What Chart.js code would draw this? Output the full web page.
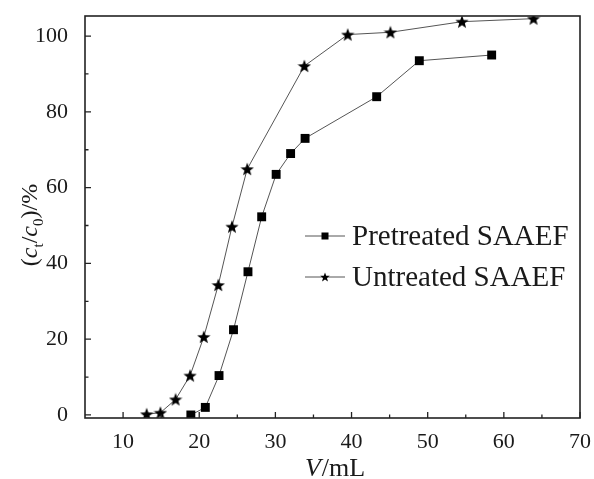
<!DOCTYPE html>
<html>
<head>
<meta charset="utf-8">
<script src="https://cdn.jsdelivr.net/npm/chart.js@4/dist/chart.umd.min.js"></script>
<style>
html, body { margin: 0; padding: 0; background: #fff; }
</style>
</head>
<body>
<canvas id="chart" width="594" height="479"></canvas>
<script>
/******************* data *******************/
const seriesNames = ['Pretreated SAAEF', 'Untreated SAAEF'];

// effluent volume V (mL) and breakthrough ratio ct/c0 (%)
const pretreatedV = [18.9, 20.8, 22.6, 24.5, 26.4, 28.2, 30.1, 32.0, 33.9, 43.3, 48.9, 58.4];
const pretreatedC = [0.0, 2.0, 10.4, 22.5, 37.8, 52.3, 63.5, 69.0, 73.0, 84.0, 93.5, 95.0];

const untreatedV = [13.1, 14.9, 16.9, 18.8, 20.6, 22.5, 24.3, 26.3, 33.8, 39.5, 45.1, 54.5, 63.9];
const untreatedC = [0.2, 0.6, 4.1, 10.4, 20.6, 34.3, 49.7, 64.9, 92.1, 100.4, 101.0, 103.8, 104.6];

const xTicks = [10, 20, 30, 40, 50, 60, 70];
const xMinor = [15, 25, 35, 45, 55, 65];
const yTicks = [0, 20, 40, 60, 80, 100];
const yMinor = [10, 30, 50, 70, 90];

const serif = '"Liberation Serif", "Times New Roman", Times, serif';
const ink = '#1a1a1a';

/******************* markers *******************/
const makeStar = (size) => {
    let c = document.createElement('canvas');
    c.width = size; c.height = size;
    let g = c.getContext('2d');
    let cx = size / 2, cy = size / 2 + size * 0.04;
    let R = size / 2, r = R * 0.42;
    g.beginPath();
    for (let i = 0; i < 10; i++) {
        let rad = i % 2 === 0 ? R : r;
        let a = -Math.PI / 2 + i * Math.PI / 5;
        g.lineTo(cx + rad * Math.cos(a), cy + rad * Math.sin(a));
    }
    g.closePath();
    g.fillStyle = '#000';
    g.fill();
    return c;
};
const starBig = makeStar(14);
const starSmall = makeStar(10);

const toPoints = (xs, ys) => xs.map((v, i) => ({x: v, y: ys[i]}));

// keep the plot box exactly where the layout padding puts it
const noPad = s => { s.paddingTop = 0; s.paddingBottom = 0; s.paddingLeft = 0; s.paddingRight = 0; };

/******************* decorations *******************/
const frame = {
    id: 'frame',
    afterDraw(chart) {
        const ctx = chart.ctx;
        const a = chart.chartArea;
        const sx = chart.scales.x, sy = chart.scales.y;
        ctx.save();

        // box
        ctx.strokeStyle = '#222';
        ctx.lineWidth = 1.6;
        ctx.strokeRect(a.left, a.top, a.right - a.left, a.bottom - a.top);

        // inward ticks
        ctx.lineWidth = 1.3;
        ctx.beginPath();
        xTicks.forEach(v => {
            let px = sx.getPixelForValue(v);
            ctx.moveTo(px, a.bottom); ctx.lineTo(px, a.bottom - 6);
        });
        xMinor.forEach(v => {
            let px = sx.getPixelForValue(v);
            ctx.moveTo(px, a.bottom); ctx.lineTo(px, a.bottom - 3.5);
        });
        yTicks.forEach(v => {
            let py = sy.getPixelForValue(v);
            ctx.moveTo(a.left, py); ctx.lineTo(a.left + 6, py);
        });
        yMinor.forEach(v => {
            let py = sy.getPixelForValue(v);
            ctx.moveTo(a.left, py); ctx.lineTo(a.left + 3.5, py);
        });
        ctx.stroke();

        // x title: V/mL
        ctx.fillStyle = ink;
        ctx.textBaseline = 'alphabetic';
        let fx = 'italic 26px ' + serif, fn = '26px ' + serif;
        ctx.font = fx; let wV = ctx.measureText('V').width;
        ctx.font = fn; let wR = ctx.measureText('/mL').width;
        let x0 = (a.left + a.right) / 2 - (wV + wR) / 2 + 2;
        ctx.font = fx; ctx.fillText('V', x0, 476);
        ctx.font = fn; ctx.fillText('/mL', x0 + wV + 1, 476);

        // y title: (ct/c0)/%
        const parts = [
            ['(', '24px ' + serif, 0],
            ['c', 'italic 24px ' + serif, 0],
            ['t', '15px ' + serif, 6],
            ['/', '24px ' + serif, 0],
            ['c', 'italic 24px ' + serif, 0],
            ['0', '15px ' + serif, 6],
            [')/%', '24px ' + serif, 0]
        ];
        let total = 0;
        parts.forEach(p => { ctx.font = p[1]; total += ctx.measureText(p[0]).width; });
        ctx.translate(37, (a.top + a.bottom) / 2 + 8);
        ctx.rotate(-Math.PI / 2);
        let cx = -total / 2;
        parts.forEach(p => {
            ctx.font = p[1];
            ctx.fillText(p[0], cx, p[2]);
            cx += ctx.measureText(p[0]).width;
        });
        ctx.setTransform(1, 0, 0, 1, 0, 0);

        // legend
        const lx = 305, ly = [236, 277];
        chart.data.datasets.forEach((ds, i) => {
            let y = ly[i];
            ctx.strokeStyle = '#555';
            ctx.lineWidth = 1;
            ctx.beginPath();
            ctx.moveTo(lx, y); ctx.lineTo(lx + 40, y);
            ctx.stroke();
            ctx.fillStyle = '#000';
            if (ds.pointStyle === 'rect') ctx.fillRect(lx + 16.5, y - 3.5, 7, 7);
            else ctx.drawImage(starSmall, lx + 15, y - 5);
            ctx.fillStyle = ink;
            ctx.font = '29px ' + serif;
            ctx.textBaseline = 'middle';
            ctx.fillText(ds.label, lx + 47, y + 1);
        });
        ctx.restore();
    }
};

/******************* chart *******************/
const tickFont = {family: serif, size: 22};

const draw = () => {
    new Chart(document.getElementById('chart'), {
        type: 'line',
        data: {
            datasets: [{
                label: seriesNames[0],
                data: toPoints(pretreatedV, pretreatedC),
                borderColor: '#555',
                borderWidth: 1,
                pointStyle: 'rect',
                pointRadius: 6.3,
                pointBackgroundColor: '#000',
                pointBorderColor: '#000',
                pointBorderWidth: 0
            }, {
                label: seriesNames[1],
                data: toPoints(untreatedV, untreatedC),
                borderColor: '#555',
                borderWidth: 1,
                pointStyle: starBig,
                pointRadius: 7,
                pointBackgroundColor: '#000',
                pointBorderColor: '#000'
            }]
        },
        options: {
            responsive: false,
            animation: false,
            devicePixelRatio: 1,
            layout: {padding: {top: 16, right: 14, left: 0, bottom: 0}},
            plugins: {legend: {display: false}, tooltip: {enabled: false}},
            scales: {
                x: {
                    type: 'linear',
                    min: 5, max: 70,
                    grid: {display: false},
                    border: {display: false},
                    ticks: {font: tickFont, color: ink, padding: 3, autoSkip: false, maxRotation: 0},
                    afterBuildTicks: s => { s.ticks = xTicks.map(v => ({value: v})); },
                    afterFit: s => { s.height = 61; noPad(s); }
                },
                y: {
                    type: 'linear',
                    min: -0.8, max: 105.3,
                    grid: {display: false},
                    border: {display: false},
                    ticks: {font: tickFont, color: ink, padding: 9, autoSkip: false},
                    afterBuildTicks: s => { s.ticks = yTicks.map(v => ({value: v})); },
                    afterFit: s => { s.width = 85; noPad(s); }
                }
            }
        },
        plugins: [frame]
    });
};

Promise.all([
    document.fonts.load('22px "Liberation Serif"'),
    document.fonts.load('italic 22px "Liberation Serif"')
]).then(draw, draw);
</script>
</body>
</html>
